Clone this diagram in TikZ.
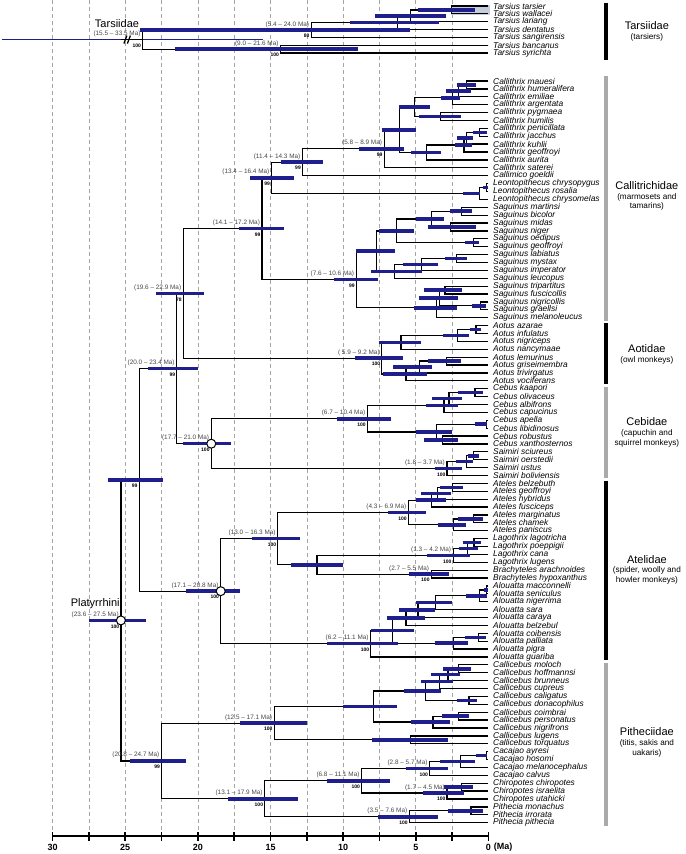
\documentclass[tikz,border=0pt]{standalone}
\usepackage{fontspec}
\setmainfont{Liberation Sans}
\usetikzlibrary{calc}
\pgfdeclarelayer{gridlayer}
\pgfdeclarelayer{tree}
\pgfsetlayers{gridlayer,tree,main}

\definecolor{hpdblue}{RGB}{30,30,140}
\definecolor{gridgray}{RGB}{165,165,165}
\definecolor{rangegray}{RGB}{70,70,70}
\definecolor{grpgray}{RGB}{170,170,170}
\definecolor{paleblue}{RGB}{198,203,222}

% join two children at a given age (Ma); optional style, name, age, child a, child b, HPD old, HPD young
\newcommand{\jn}[7][]{%
  \coordinate (m#2) at ($(#4)!.5!(#5)$);
  \coordinate (#2) at (#3,0 |- m#2);
  \begin{pgfonlayer}{tree}
    \draw[branch] (#4) -- (#2 |- #4) -- (#2 |- #5) -- (#5);
  \end{pgfonlayer}
  \draw[hpd,#1] (#6,0 |- #2) -- (#7,0 |- #2);
}
\newcommand{\rng}[2]{\node[agelab] at (#1) {(#2 Ma)};}
\newcommand{\boot}[2]{\node[bootlab] at (#1) {#2};}

\begin{document}
\begin{tikzpicture}[x=-14.53pt,y=-1pt,
  branch/.style={draw=black,line width=1.25pt},
  hpd/.style={draw=hpdblue,line width=3.5pt},
  thinbar/.style={line width=1.3pt},
  timegrid/.style={draw=gridgray,line width=.7pt,dash pattern=on 4pt off 3pt},
  taxon/.style={anchor=west,inner sep=0,xshift=4.5pt,font=\fontsize{8.4}{9}\selectfont\itshape},
  agelab/.style={anchor=south east,inner sep=0,xshift=-2pt,yshift=2.5pt,text=rangegray,
    font=\fontsize{6.4}{7}\selectfont},
  bootlab/.style={anchor=north east,inner sep=0,xshift=-1.5pt,yshift=-4pt,
    font=\fontsize{5}{6}\selectfont\bfseries},
  hdr/.style={anchor=south,inner sep=0,yshift=3pt,font=\fontsize{11}{13}\selectfont},
  grp/.style={align=center,inner sep=0,font=\fontsize{8.2}{9.8}\selectfont},
  grpbar/.style={line width=3.4pt},
  ring/.style={draw=black,fill=white,line width=1pt},
  axisline/.style={draw=black,line width=1.8pt},
  axlab/.style={inner sep=0,font=\fontsize{9}{10}\selectfont\bfseries}]

\useasboundingbox (33.62,0) rectangle (-13.59,854);

% time grid
\begin{pgfonlayer}{gridlayer}
\foreach \a in {2.5,5,...,30}
  \draw[timegrid] (\a,0) -- (\a,832);
\end{pgfonlayer}

% tips
\foreach \i/\sp in {1/Tarsius tarsier,2/Tarsius wallacei,3/Tarsius lariang,
  4/Tarsius dentatus,5/Tarsius sangirensis,6/Tarsius bancanus,7/Tarsius syrichta}
{
  \coordinate (t\i) at (0,{6+(\i-1)*7.85});
  \node[taxon] at (t\i) {\sp};
}
\foreach \i/\sp in {8/Callithrix mauesi,9/Callithrix humeralifera,10/Callithrix emiliae,
  11/Callithrix argentata,12/Callithrix pygmaea,13/Callithrix humilis,
  14/Callithrix penicillata,15/Callithrix jacchus,16/Callithrix kuhlii,
  17/Callithrix geoffroyi,18/Callithrix aurita,19/Callithrix saterei,
  20/Callimico goeldii,21/Leontopithecus chrysopygus,22/Leontopithecus rosalia,
  23/Leontopithecus chrysomelas,24/Saguinus martinsi,25/Saguinus bicolor,
  26/Saguinus midas,27/Saguinus niger,28/Saguinus oedipus,29/Saguinus geoffroyi,
  30/Saguinus labiatus,31/Saguinus mystax,32/Saguinus imperator,33/Saguinus leucopus,
  34/Saguinus tripartitus,35/Saguinus fuscicollis,36/Saguinus nigricollis,
  37/Saguinus graellsi,38/Saguinus melanoleucus,39/Aotus azarae,40/Aotus infulatus,
  41/Aotus nigriceps,42/Aotus nancymaae,43/Aotus lemurinus,44/Aotus griseimembra,
  45/Aotus trivirgatus,46/Aotus vociferans,47/Cebus kaapori,48/Cebus olivaceus,
  49/Cebus albifrons,50/Cebus capucinus,51/Cebus apella,52/Cebus libidinosus,
  53/Cebus robustus,54/Cebus xanthosternos,55/Saimiri sciureus,56/Saimiri oerstedii,
  57/Saimiri ustus,58/Saimiri boliviensis,59/Ateles belzebuth,60/Ateles geoffroyi,
  61/Ateles hybridus,62/Ateles fusciceps,63/Ateles marginatus,64/Ateles chamek,
  65/Ateles paniscus,66/Lagothrix lagotricha,67/Lagothrix poeppigii,68/Lagothrix cana,
  69/Lagothrix lugens,70/Brachyteles arachnoides,71/Brachyteles hypoxanthus,
  72/Alouatta macconnelli,73/Alouatta seniculus,74/Alouatta nigerrima,75/Alouatta sara,
  76/Alouatta caraya,77/Alouatta belzebul,78/Alouatta coibensis,79/Alouatta palliata,
  80/Alouatta pigra,81/Alouatta guariba,82/Callicebus moloch,83/Callicebus hoffmannsi,
  84/Callicebus brunneus,85/Callicebus cupreus,86/Callicebus caligatus,
  87/Callicebus donacophilus,88/Callicebus coimbrai,89/Callicebus personatus,
  90/Callicebus nigrifrons,91/Callicebus lugens,92/Callicebus torquatus,
  93/Cacajao ayresi,94/Cacajao hosomi,95/Cacajao melanocephalus,96/Cacajao calvus,
  97/Chiropotes chiropotes,98/Chiropotes israelita,99/Chiropotes utahicki,
  100/Pithecia monachus,101/Pithecia irrorata,102/Pithecia pithecia}
{
  \coordinate (t\i) at (0,{81+(\i-8)*7.89});
  \node[taxon] at (t\i) {\sp};
}

% Tarsiidae
\jn{ta1}{2.55}{t1}{t2}{4.85}{0.95}
\begin{pgfonlayer}{gridlayer}
\fill[paleblue] ([yshift=1pt]ta1 |- t1) rectangle ([yshift=-1pt]-0.1,0 |- t2);
\end{pgfonlayer}
\jn{ta2}{5.35}{ta1}{t3}{7.8}{2.9}
\jn{ta3}{6.25}{ta2}{t4}{9.5}{3.4}
\jn{ta4}{12.2}{ta3}{t5}{24.0}{5.4}
\jn{ta5}{14.3}{t6}{t7}{21.6}{9.0}
\jn[thinbar]{tar}{23.8}{ta4}{ta5}{33.5}{15.5}
\coordinate (brk) at (25.3,0 |- tar);
\draw[branch] (brk) -- (tar);
\draw[line width=1.3pt] ([xshift=3pt,yshift=-4pt]brk) -- ([xshift=6pt,yshift=4pt]brk)
  ([xshift=6.5pt,yshift=-4pt]brk) -- ([xshift=9.5pt,yshift=4pt]brk);

% Callitrichidae
\jn{ca1}{1.5}{t8}{t9}{2.2}{0.86}
\jn{ca2}{2.04}{ca1}{t10}{2.9}{1.23}
\jn{ca3}{2.48}{ca2}{t11}{3.24}{1.97}
\jn{ca4}{3.29}{t12}{t13}{4.75}{1.92}
\jn{ca5}{5.09}{ca3}{ca4}{6.13}{4.05}
\jn{ca6}{0.63}{t14}{t15}{1.1}{0.12}
\jn{ca7}{1.5}{ca6}{t16}{2.15}{1.04}
\jn{ca8}{1.69}{ca7}{t17}{2.31}{1.16}
\jn{ca9}{4.28}{ca8}{t18}{5.32}{3.29}
\jn{ca10}{6.13}{ca5}{ca9}{7.34}{5.02}
\jn{ca11}{7.18}{ca10}{t19}{8.9}{5.8}
\jn{ca12}{12.8}{ca11}{t20}{14.3}{11.4}
\jn{le1}{0.16}{t21}{t22}{0.35}{0.02}
\jn{le2}{0.63}{le1}{t23}{1.74}{0.6}
\jn{ca13}{14.93}{ca12}{le2}{16.4}{13.4}
\jn{sa1}{1.85}{t24}{t25}{2.66}{1.16}
\jn{sa2}{2.6}{t26}{t27}{4.17}{0.86}
\jn{sa3}{3.94}{sa1}{sa2}{4.98}{3.03}
\jn{sa4}{1.04}{t28}{t29}{1.6}{0.63}
\jn{sa5}{6.32}{sa3}{sa4}{7.57}{5.16}
\jn{sa6}{2.2}{t30}{t31}{3.0}{1.5}
\jn{sa7}{4.63}{sa6}{t32}{5.9}{3.47}
\jn{sa8}{6.48}{sa7}{t33}{8.06}{4.56}
\jn{sa9}{7.69}{sa5}{sa8}{9.1}{6.41}
\jn{sa10}{3.0}{t34}{t35}{4.44}{1.85}
\jn{sa11}{0.53}{t36}{t37}{1.16}{0.16}
\jn{sa12}{3.36}{sa10}{sa11}{4.79}{2.08}
\jn{sa13}{3.59}{sa12}{t38}{5.16}{2.2}
\jn{sa14}{9.1}{sa9}{sa13}{10.6}{7.6}
\jn{cal}{15.58}{ca13}{sa14}{17.2}{14.1}

% Aotidae
\jn{ao1}{0.86}{t39}{t40}{1.27}{0.53}
\jn{ao2}{2.15}{ao1}{t41}{3.13}{1.37}
\jn{ao3}{6.02}{ao2}{t42}{7.57}{4.63}
\jn{ao4}{2.9}{t43}{t44}{4.17}{1.92}
\jn{ao5}{4.75}{ao4}{t45}{6.55}{3.87}
\jn{ao6}{5.67}{ao5}{t46}{7.29}{4.21}
\jn{aot}{7.34}{ao3}{ao6}{9.2}{5.9}

% Cebidae
\jn{ce1}{0.93}{t47}{t48}{2.08}{0.35}
\jn{ce2}{2.71}{ce1}{t49}{3.87}{1.85}
\jn{ce3}{3.06}{ce2}{t50}{4.28}{2.08}
\jn{ce4}{0.16}{t51}{t52}{0.93}{0.12}
\jn{ce5}{3.17}{t53}{t54}{4.44}{2.08}
\jn{ce6}{3.59}{ce4}{ce5}{4.98}{2.48}
\jn{ceb}{8.33}{ce3}{ce6}{10.4}{6.7}
\jn{si1}{1.04}{t55}{t56}{1.44}{0.63}
\jn{si2}{1.5}{si1}{t57}{2.25}{1.04}
\jn{sai}{2.85}{si2}{t58}{3.7}{1.8}
\jn{cbd}{19.08}{ceb}{sai}{21.0}{17.7}

% Atelidae
\jn{at1}{2.48}{t59}{t60}{3.36}{1.74}
\jn{at2}{3.52}{at1}{t61}{4.63}{2.59}
\jn{at3}{3.91}{at2}{t62}{5.02}{2.94}
\jn{at4}{1.04}{t63}{t64}{2.08}{0.35}
\jn{at5}{2.43}{at4}{t65}{3.47}{1.55}
\jn{ate}{5.51}{at3}{at5}{6.9}{4.3}
\jn{la1}{1.0}{t66}{t67}{1.78}{0.53}
\jn{la2}{1.45}{la1}{t68}{2.04}{0.69}
\jn{lag}{2.43}{la2}{t69}{4.2}{1.3}
\jn{bra}{3.94}{t70}{t71}{5.5}{2.7}
\jn{lb}{11.8}{lag}{bra}{13.6}{10.0}
\jn{atn}{14.5}{ate}{lb}{16.3}{13.0}
\jn{al1}{0.12}{t72}{t73}{0.3}{0.02}
\jn{al2}{0.63}{al1}{t74}{1.55}{0.12}
\jn{al3}{3.66}{al2}{t75}{5.02}{2.48}
\jn{al4}{4.86}{al3}{t76}{6.13}{3.66}
\jn{al5}{5.67}{al4}{t77}{6.99}{4.35}
\jn{al6}{0.67}{t78}{t79}{1.6}{0.16}
\jn{al7}{2.43}{al6}{t80}{3.7}{1.39}
\jn{al8}{6.6}{al5}{al7}{8.06}{5.14}
\jn{alo}{8.1}{al8}{t81}{11.1}{6.2}
\jn{atl}{18.43}{atn}{alo}{20.8}{17.1}

% Pitheciidae
\jn{cc1}{2.08}{t82}{t83}{3.13}{1.2}
\jn{cc2}{2.78}{cc1}{t84}{3.94}{1.97}
\jn{cc3}{3.36}{cc2}{t85}{4.63}{2.43}
\jn{cc4}{1.34}{t86}{t87}{2.2}{0.81}
\jn{cc5}{4.35}{cc3}{cc4}{5.83}{3.29}
\jn{cc6}{2.08}{t88}{t89}{3.17}{1.32}
\jn{cc7}{3.82}{cc6}{t90}{5.32}{2.62}
\jn{cc8}{7.92}{cc5}{cc7}{10.0}{6.3}
\jn{cc9}{5.37}{t91}{t92}{7.99}{2.78}
\jn{cll}{14.75}{cc8}{cc9}{17.1}{12.5}
\jn{cj1}{0.16}{t93}{t94}{0.86}{0.12}
\jn{cj2}{1.92}{cj1}{t95}{3.36}{0.93}
\jn{caj}{4.05}{cj2}{t96}{5.7}{2.8}
\jn{ch1}{1.85}{t97}{t98}{3.06}{1.09}
\jn{chi}{2.85}{ch1}{t99}{4.5}{1.7}
\jn{cch}{8.73}{caj}{chi}{11.1}{6.8}
\jn{pi1}{1.2}{t100}{t101}{2.78}{0.35}
\jn{pit}{5.44}{pi1}{t102}{7.6}{3.5}
\jn{ptn}{15.4}{cch}{pit}{17.9}{13.1}
\jn{pth}{22.5}{cll}{ptn}{24.7}{20.8}

% deep splits
\jn{nD}{21.0}{cal}{aot}{22.9}{19.6}
\jn{nC}{21.45}{nD}{cbd}{23.4}{20.0}
\jn{nB}{24.04}{nC}{atl}{26.2}{22.4}
\jn{pla}{25.3}{nB}{pth}{27.5}{23.6}

\foreach \n in {pla,atl,cbd}
  \draw[ring] (\n) circle (4.5pt);

% node ages and support
\node[agelab] (r-tar) at (tar) {(15.5 – 33.5 Ma)};
\node[hdr] at (r-tar.north) {Tarsiidae};
\node[agelab] (r-pla) at (pla) {(23.6 – 27.5 Ma)};
\node[hdr] at (r-pla.north) {Platyrrhini};
\rng{ta4}{5.4 – 24.0}
\rng{ta5}{9.0 – 21.6}
\rng{ca11}{5.8 – 8.9}
\rng{ca12}{11.4 – 14.3}
\rng{ca13}{13.4 – 16.4}
\rng{cal}{14.1 – 17.2}
\rng{sa14}{7.6 – 10.6}
\rng{nD}{19.6 – 22.9}
\rng{nC}{20.0 – 23.4}
\rng{aot}{~5.9 – 9.2}
\rng{ceb}{6.7 – 10.4}
\rng{sai}{1.8 – 3.7}
\rng{cbd}{17.7 – 21.0}
\rng{ate}{4.3 – 6.9}
\rng{lag}{1.3 – 4.2}
\rng{bra}{2.7 – 5.5}
\rng{atn}{13.0 – 16.3}
\rng{alo}{6.2 – 11.1}
\rng{atl}{17.1 – 20.8}
\rng{cll}{12.5 – 17.1}
\rng{caj}{2.8 – 5.7}
\rng{chi}{1.7 – 4.5}
\rng{cch}{6.8 – 11.1}
\rng{pit}{3.5 – 7.6}
\rng{ptn}{13.1 – 17.9}
\rng{pth}{20.8 – 24.7}
\foreach \n/\v in {tar/100,ta4/80,ta5/100,ca11/99,ca12/99,ca13/99,cal/99,sa14/99,
  nD/78,nC/99,nB/99,pla/100,aot/100,ceb/100,sai/100,cbd/100,ate/100,lag/100,
  bra/100,atn/100,alo/100,atl/100,cll/100,caj/100,chi/100,cch/100,pit/100,
  ptn/100,pth/99}
  {\boot{\n}{\v}}

% family brackets
\draw[grpbar,black] (-8.09,2.5) -- (-8.09,60);
\draw[grpbar,grpgray] (-8.09,76) -- (-8.09,320.5);
\draw[grpbar,black] (-8.09,323) -- (-8.09,384);
\draw[grpbar,grpgray] (-8.09,386.5) -- (-8.09,478);
\draw[grpbar,black] (-8.09,480.5) -- (-8.09,660);
\draw[grpbar,grpgray] (-8.09,662.5) -- (-8.09,826);
\node[grp] (g-tar) at (-10.9,31) {{\fontsize{11}{13}\selectfont Tarsiidae}\\(tarsiers)};
\node[grp] (g-cal) at (-10.9,196) {{\fontsize{11}{13}\selectfont Callitrichidae}\\(marmosets and\\tamarins)};
\node[grp] (g-aot) at (-10.9,354.5) {{\fontsize{11}{13}\selectfont Aotidae}\\(owl monkeys)};
\node[grp] (g-ceb) at (-10.9,432.5) {{\fontsize{11}{13}\selectfont Cebidae}\\(capuchin and\\squirrel monkeys)};
\node[grp] (g-ate) at (-10.9,569.7) {{\fontsize{11}{13}\selectfont Atelidae}\\(spider, woolly and\\howler monkeys)};
\node[grp] (g-pit) at (-10.9,742.5) {{\fontsize{11}{13}\selectfont Pitheciidae}\\(titis, sakis and\\uakaris)};

% time axis
\draw[axisline] (30,836) -- (0,836);
\foreach \a in {0,2.5,...,30}
  \draw[axisline] (\a,832) -- (\a,841);
\foreach \a in {30,25,...,5}
  \node[axlab] at (\a,847) {\a};
\node[axlab] (zero) at (0,847) {0};
\node[axlab,anchor=west,xshift=2.5pt] at (zero.east) {(Ma)};
\end{tikzpicture}
\end{document}
